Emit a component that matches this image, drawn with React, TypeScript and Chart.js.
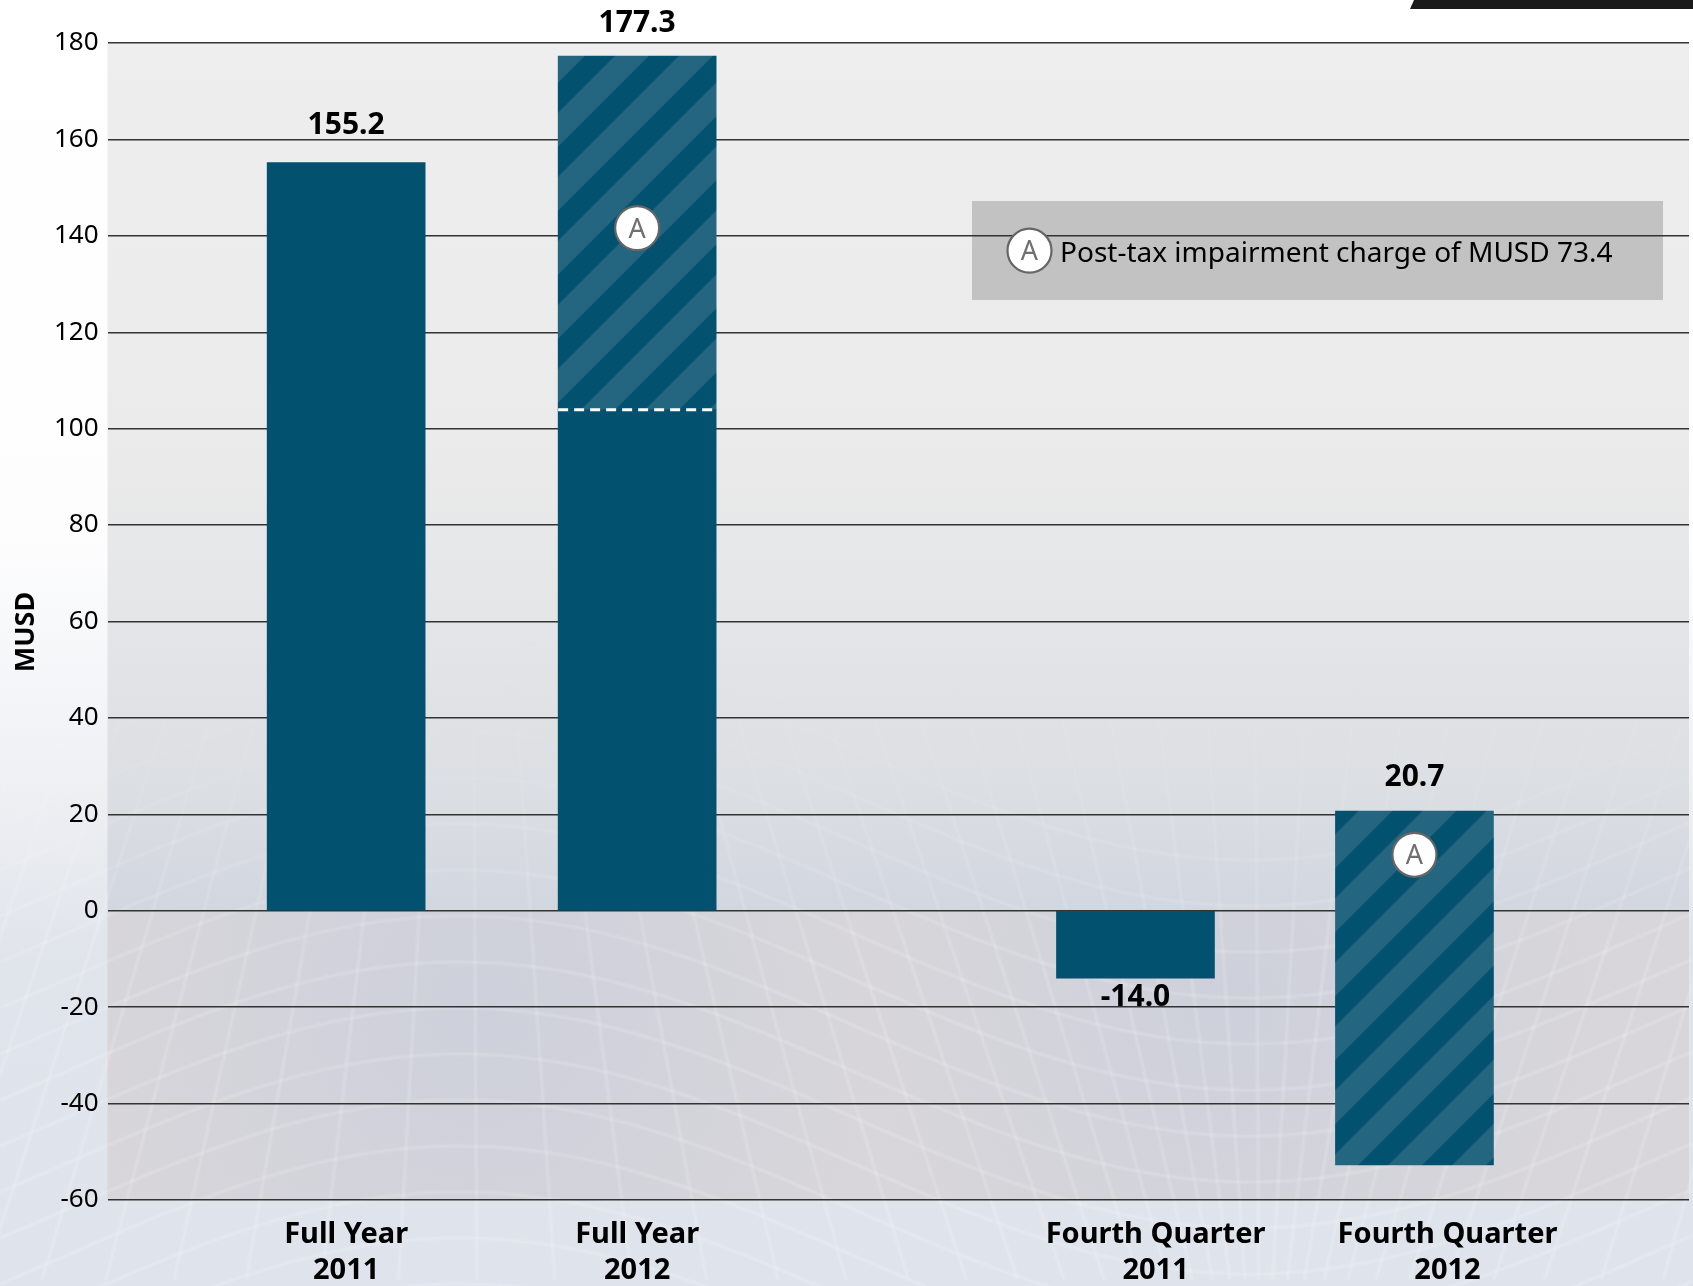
import React, { useEffect, useRef } from "react";
import { Chart, registerables } from "chart.js";

Chart.register(...registerables);

// Horizontal positions on a 0-100 axis
const barSlots = [15.09, 33.49, 65.0, 82.64];
const labelSlots = [15.09, 33.49, 66.27, 84.73];
const categories = [
  ["Full Year", "2011"],
  ["Full Year", "2012"],
  ["Fourth Quarter", "2011"],
  ["Fourth Quarter", "2012"],
];
const underlyingValues = [155.2, 103.9, -14.0, null];
const impairedRanges = [null, [103.9, 177.3], null, [-52.7, 20.7]];
const statedValues = [155.2, 177.3, -14.0, 20.7];
const markerValues = [null, 141.6, null, 11.6];
const yTicks = { min: -60, max: 180, step: 20 };
const noteText = "Post-tax impairment charge of MUSD 73.4";

const FONT = '"Noto Sans"';
const W = 1693;
const H = 1286;
const DARK = "#01516f";
const LIGHT = "#246680";
const labelGaps = [28.5, 24, 27.5, 25];

function stripePattern(ctx: CanvasRenderingContext2D, phase: number) {
  const tile = document.createElement("canvas");
  tile.width = 64;
  tile.height = 64;
  const t = tile.getContext("2d")!;
  t.fillStyle = LIGHT;
  t.fillRect(0, 0, 64, 64);
  t.fillStyle = DARK;
  // Dark band covers x + y in [0, 30] modulo the 64px period
  for (const k of [0, 64, 128]) {
    t.beginPath();
    t.moveTo(k, 0);
    t.lineTo(k + 30, 0);
    t.lineTo(k + 30 - 64, 64);
    t.lineTo(k - 64, 64);
    t.closePath();
    t.fill();
  }
  const p = ctx.createPattern(tile, "repeat")!;
  p.setTransform(new DOMMatrix().translate(phase, 0));
  return p;
}

// Decorative warped net behind the lower half of the page
function drawMesh(ctx: CanvasRenderingContext2D) {
  const fade = ctx.createLinearGradient(0, 640, 0, 960);
  fade.addColorStop(0, "rgba(255,255,255,0)");
  fade.addColorStop(1, "rgba(255,255,255,0.2)");
  ctx.save();
  ctx.filter = "blur(0.8px)";
  ctx.strokeStyle = fade;
  ctx.lineWidth = 2.8;
  const period = 1580;
  const bend = (x: number) => (220 * (1 - Math.cos(((x - 460) * 2 * Math.PI) / period))) / 2;
  for (let y0 = 640; y0 < 1300; y0 += 46) {
    ctx.beginPath();
    for (let x = 0; x <= W; x += 12) {
      const y = y0 + bend(x);
      if (x === 0) ctx.moveTo(x, y);
      else ctx.lineTo(x, y);
    }
    ctx.stroke();
  }
  for (let x0 = -400; x0 < 2200; x0 += 46) {
    const lean = 0.34 * Math.sin(((x0 - 470) * 2 * Math.PI) / period);
    ctx.beginPath();
    for (let y = 560; y <= H; y += 12) {
      const x = x0 + (y - 760) * lean;
      if (y === 560) ctx.moveTo(x, y);
      else ctx.lineTo(x, y);
    }
    ctx.stroke();
  }
  ctx.restore();
}

const backdrop = {
  id: "backdrop",
  beforeDraw(chart: Chart) {
    const { ctx, chartArea: a } = chart;
    const yZero = chart.scales.y.getPixelForValue(0);
    ctx.save();
    const page = ctx.createLinearGradient(0, 0, 0, H);
    page.addColorStop(0, "#ffffff");
    page.addColorStop(0.42, "#fdfdfe");
    page.addColorStop(0.6, "#eff1f4");
    page.addColorStop(0.75, "#e0e4eb");
    page.addColorStop(1, "#dfe4ec");
    ctx.fillStyle = page;
    ctx.fillRect(0, 0, W, H);

    const upper = ctx.createLinearGradient(0, a.top, 0, yZero);
    upper.addColorStop(0, "#eeeeee");
    upper.addColorStop(0.45, "#ebebeb");
    upper.addColorStop(0.65, "#e5e6e8");
    upper.addColorStop(0.85, "#dcdfe3");
    upper.addColorStop(1, "#d2d6df");
    ctx.fillStyle = upper;
    ctx.fillRect(a.left, a.top, a.right - a.left, yZero - a.top);

    ctx.fillStyle = "#d8d6da";
    ctx.fillRect(a.left, yZero, a.right - a.left, a.bottom - yZero);
    // Cooler pools of tone under the zero line
    ctx.save();
    ctx.beginPath();
    ctx.rect(a.left, yZero, a.right - a.left, a.bottom - yZero);
    ctx.clip();
    for (const [cx, cy, r] of [[480, 1010, 420], [1230, 1000, 380]]) {
      const pool = ctx.createRadialGradient(cx, cy, 0, cx, cy, r);
      pool.addColorStop(0, "rgba(198,204,220,0.6)");
      pool.addColorStop(1, "rgba(198,204,220,0)");
      ctx.fillStyle = pool;
      ctx.fillRect(a.left, yZero, a.right - a.left, a.bottom - yZero);
    }
    ctx.restore();

    drawMesh(ctx);

    // Dark corner shape at the top of the page
    ctx.fillStyle = "#1b1a1b";
    ctx.beginPath();
    ctx.moveTo(1414, 0);
    ctx.lineTo(W, 0);
    ctx.lineTo(W, 9);
    ctx.lineTo(1410, 9);
    ctx.closePath();
    ctx.fill();

    // Note panel sits below the gridlines
    ctx.fillStyle = "#c2c2c2";
    ctx.fillRect(972, 201, 691, 99);
    ctx.restore();
  },
};

function badge(ctx: CanvasRenderingContext2D, x: number, y: number) {
  ctx.beginPath();
  ctx.arc(x, y, 22, 0, Math.PI * 2);
  ctx.fillStyle = "#ffffff";
  ctx.fill();
  ctx.lineWidth = 2.2;
  ctx.strokeStyle = "#666666";
  ctx.stroke();
  ctx.fillStyle = "#707070";
  ctx.font = `27px ${FONT}`;
  ctx.textAlign = "center";
  ctx.textBaseline = "alphabetic";
  ctx.fillText("A", x, y + 9.5);
}

const annotations = {
  id: "annotations",
  afterDatasetsDraw(chart: Chart) {
    const { ctx } = chart;
    const xs = chart.scales.x;
    const ys = chart.scales.y;
    ctx.save();

    // Dashed divider at the base of the impaired part of the second bar
    const range = impairedRanges[1] as number[];
    const dashY = ys.getPixelForValue(range[0]);
    const half = 79;
    ctx.beginPath();
    ctx.setLineDash([10, 6]);
    ctx.lineWidth = 3;
    ctx.strokeStyle = "#ffffff";
    ctx.moveTo(xs.getPixelForValue(barSlots[1]) - half, dashY);
    ctx.lineTo(xs.getPixelForValue(barSlots[1]) + half, dashY);
    ctx.stroke();
    ctx.setLineDash([]);

    markerValues.forEach((v, i) => {
      if (v !== null) badge(ctx, xs.getPixelForValue(barSlots[i]), ys.getPixelForValue(v));
    });

    // Value labels
    ctx.fillStyle = "#000000";
    ctx.font = `bold 30px ${FONT}`;
    ctx.textAlign = "center";
    ctx.textBaseline = "alphabetic";
    statedValues.forEach((v, i) => {
      const y = ys.getPixelForValue(v);
      const base = v < 0 ? y + labelGaps[i] : y - labelGaps[i];
      ctx.fillText(v.toFixed(1), xs.getPixelForValue(barSlots[i]), base);
    });

    // Note text with its badge
    badge(ctx, 1029.5, 250.7);
    ctx.fillStyle = "#000000";
    ctx.font = `28px ${FONT}`;
    ctx.textAlign = "left";
    ctx.fillText(noteText, 1060, 262);

    // Vertical unit title
    ctx.save();
    ctx.translate(34, 632);
    ctx.rotate(-Math.PI / 2);
    ctx.font = `bold 27px ${FONT}`;
    ctx.textAlign = "center";
    ctx.fillStyle = "#000000";
    ctx.fillText("MUSD", 0, 0);
    ctx.restore();

    ctx.restore();
  },
};

export default function App() {
  const ref = useRef<HTMLCanvasElement>(null);
  useEffect(() => {
    const canvas = ref.current!;
    const ctx = canvas.getContext("2d")!;
    const hatch = [null, stripePattern(ctx, 0.7), null, stripePattern(ctx, 27.3)];
    const chart = new Chart(canvas, {
      type: "bar",
      data: {
        datasets: [
          {
            label: "Underlying",
            data: underlyingValues.map((v, i) => ({ x: barSlots[i], y: v === null ? null : [0, v] })),
            backgroundColor: DARK,
            barThickness: 158,
            grouped: false,
            borderWidth: 0,
          },
          {
            label: "Impairment",
            data: impairedRanges.map((r, i) => ({ x: barSlots[i], y: r })),
            backgroundColor: hatch.map((h) => h ?? DARK),
            barThickness: 158,
            grouped: false,
            borderWidth: 0,
          },
        ],
      } as any,
      options: {
        responsive: false,
        animation: false,
        devicePixelRatio: 1,
        layout: { padding: { top: 43, left: 0, right: 4, bottom: 0 } },
        plugins: { legend: { display: false }, tooltip: { enabled: false }, title: { display: false } },
        scales: {
          x: {
            type: "linear",
            min: 0,
            max: 100,
            offset: false,
            afterBuildTicks(scale: any) {
              scale.ticks = labelSlots.map((value) => ({ value }));
            },
            afterFit(scale: any) {
              scale.height = 86;
            },
            grid: { display: false, offset: false },
            border: { display: false },
            ticks: {
              autoSkip: false,
              maxRotation: 0,
              padding: 8,
              color: "#000000",
              font: { family: FONT, size: 29, weight: "bold", lineHeight: 1.26 },
              callback(_v: any, i: number) {
                return categories[i];
              },
            },
          },
          y: {
            type: "linear",
            min: yTicks.min,
            max: yTicks.max,
            afterFit(scale: any) {
              scale.width = 107.5;
            },
            grid: { color: "#333333", lineWidth: 1.4, drawTicks: false },
            border: { display: false },
            ticks: {
              stepSize: yTicks.step,
              padding: 9,
              color: "#000000",
              font: { family: FONT, size: 26 },
            },
          },
        },
      } as any,
      plugins: [backdrop, annotations],
    });
    return () => chart.destroy();
  }, []);
  return (
    <div style={{ position: "absolute", left: 0, top: 0, width: W, height: H }}>
      <canvas ref={ref} width={W} height={H} style={{ display: "block" }} />
    </div>
  );
}
